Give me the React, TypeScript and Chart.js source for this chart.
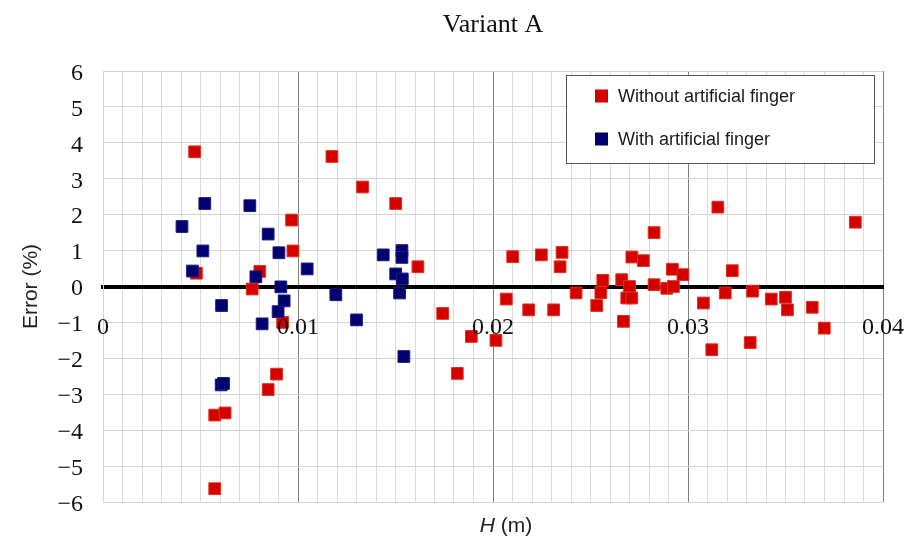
import React, { useEffect, useRef } from 'react';
import { Chart, registerables } from 'chart.js';

Chart.register(...registerables);

const chartTitle = 'Variant A';
const xTitleItalic = 'H';
const xTitleRest = ' (m)';
const yTitle = 'Error (%)';
const seriesNames = ['Without artificial finger', 'With artificial finger'];

const xMajorTicks = [0, 0.01, 0.02, 0.03, 0.04];
const xMinorCount = 40; // minor gridlines every 0.001 between 0 and 0.04
const yTicks = [-6, -5, -4, -3, -2, -1, 0, 1, 2, 3, 4, 5, 6];

const withoutX = [
  0.0047, 0.00479, 0.00765, 0.00804, 0.00967, 0.00974, 0.00921, 0.0089, 0.00847, 0.00573,
  0.00626, 0.00573, 0.01174, 0.01331, 0.01501, 0.01615, 0.01742, 0.01889, 0.01817, 0.02015,
  0.02068, 0.02101, 0.02183, 0.02248, 0.02311, 0.02354, 0.02344, 0.02426, 0.02532, 0.02553,
  0.02563, 0.0266, 0.027, 0.02686, 0.02712, 0.02669, 0.02712, 0.02771, 0.02826, 0.02826,
  0.02891, 0.02925, 0.0292, 0.02974, 0.03079, 0.03122, 0.03153, 0.03191, 0.03227, 0.03331,
  0.03319, 0.03427, 0.035, 0.0351, 0.03637, 0.03699, 0.03858,
];
const withoutY = [
  3.75, 0.37, -0.07, 0.42, 1.85, 0.99, -1.0, -2.44, -2.87, -3.58,
  -3.52, -5.63, 3.62, 2.77, 2.31, 0.55, -0.75, -1.39, -2.42, -1.5,
  -0.35, 0.83, -0.65, 0.88, -0.65, 0.95, 0.55, -0.18, -0.53, -0.17,
  0.17, 0.19, 0.0, -0.32, -0.32, -0.97, 0.82, 0.72, 1.5, 0.05,
  -0.05, 0.0, 0.48, 0.33, -0.46, -1.76, 2.21, -0.18, 0.44, -0.13,
  -1.56, -0.35, -0.3, -0.65, -0.58, -1.16, 1.79,
];

const withX = [
  0.00405, 0.00459, 0.00512, 0.00522, 0.00608, 0.00606, 0.00618, 0.00753, 0.00784, 0.00816,
  0.00847, 0.00902, 0.00912, 0.00898, 0.00929, 0.01047, 0.01194, 0.013, 0.01437, 0.01533,
  0.01533, 0.01501, 0.01535, 0.01521, 0.01543,
];
const withY = [
  1.67, 0.43, 0.99, 2.31, -0.53, -2.74, -2.7, 2.25, 0.27, -1.04,
  1.46, 0.94, -0.01, -0.7, -0.4, 0.49, -0.23, -0.93, 0.88, 1.0,
  0.81, 0.35, 0.21, -0.18, -1.95,
];

const redFill = '#d40000';
const redEdge = '#e0301c';
const blueFill = '#00006e';
const blueEdge = '#1a1a86';

const SERIF = '"Liberation Serif", "Times New Roman", serif';
const SANS = '"Liberation Sans", Arial, sans-serif';

const toPoints = (xs: number[], ys: number[]) => xs.map((x, i) => ({ x, y: ys[i] }));

const xTickValues = Array.from({ length: xMinorCount + 1 }, (_, i) => i / 1000);
const isMajorX = (v: number) => xMajorTicks.some((m) => Math.abs(m - v) < 1e-9);

const decorPlugin = {
  id: 'decor',
  afterDraw(chart: any) {
    const { ctx, chartArea } = chart;
    ctx.save();
    // Title
    ctx.fillStyle = '#111';
    ctx.font = `26px ${SERIF}`;
    ctx.textAlign = 'center';
    ctx.textBaseline = 'alphabetic';
    ctx.fillText(chartTitle, (chartArea.left + chartArea.right) / 2, 32);

    // Y axis title
    ctx.save();
    ctx.font = `21px ${SANS}`;
    ctx.fillStyle = '#222';
    ctx.translate(37, (chartArea.top + chartArea.bottom) / 2);
    ctx.rotate(-Math.PI / 2);
    ctx.textAlign = 'center';
    ctx.textBaseline = 'alphabetic';
    ctx.fillText(yTitle, 0, 0);
    ctx.restore();

    // X axis title (italic H + normal rest)
    ctx.fillStyle = '#222';
    ctx.textAlign = 'left';
    ctx.textBaseline = 'alphabetic';
    ctx.font = `italic 21px ${SANS}`;
    const w1 = ctx.measureText(xTitleItalic).width;
    ctx.font = `21px ${SANS}`;
    const w2 = ctx.measureText(xTitleRest).width;
    const startX = 506 - (w1 + w2) / 2;
    ctx.font = `italic 21px ${SANS}`;
    ctx.fillText(xTitleItalic, startX, 532);
    ctx.font = `21px ${SANS}`;
    ctx.fillText(xTitleRest, startX + w1, 532);

    // Legend box
    const bx = chartArea.right - 317;
    const by = chartArea.top + 4;
    const bw = 308;
    const bh = 88;
    ctx.fillStyle = '#ffffff';
    ctx.fillRect(bx, by, bw, bh);
    ctx.strokeStyle = '#555';
    ctx.lineWidth = 1;
    ctx.strokeRect(bx + 0.5, by + 0.5, bw, bh);
    const ds = chart.data.datasets;
    const rows = [by + 21, by + 64];
    ds.forEach((d: any, i: number) => {
      const cy = rows[i];
      ctx.fillStyle = d.backgroundColor;
      ctx.fillRect(bx + 29, cy - 6.5, 13, 13);
      ctx.fillStyle = '#1a1a1a';
      ctx.font = `18px ${SANS}`;
      ctx.textAlign = 'left';
      ctx.textBaseline = 'middle';
      ctx.fillText(d.label, bx + 52, cy + 1);
    });
    ctx.restore();
  },
};

export default function App() {
  const canvasRef = useRef<HTMLCanvasElement | null>(null);

  useEffect(() => {
    document.body.style.margin = '0';
    document.body.style.background = '#fff';
    const canvas = canvasRef.current;
    if (!canvas) return;
    const chart = new Chart(canvas, {
      type: 'scatter',
      data: {
        datasets: [
          {
            label: seriesNames[0],
            data: toPoints(withoutX, withoutY),
            backgroundColor: redFill,
            borderColor: redEdge,
            borderWidth: 1,
            pointStyle: 'rect',
            pointRadius: 8.3,
            order: 1,
          },
          {
            label: seriesNames[1],
            data: toPoints(withX, withY),
            backgroundColor: blueFill,
            borderColor: blueEdge,
            borderWidth: 1,
            pointStyle: 'rect',
            pointRadius: 8.3,
            order: 0,
          },
        ],
      },
      options: {
        responsive: false,
        animation: false,
        events: [],
        layout: { padding: { top: 71, bottom: 44, left: 0, right: 23 } },
        plugins: {
          legend: { display: false },
          title: { display: false },
          tooltip: { enabled: false },
        },
        scales: {
          x: {
            type: 'linear',
            min: 0,
            max: 0.04,
            position: { y: 0 } as any,
            afterBuildTicks: (s: any) => {
              s.ticks = xTickValues.map((v) => ({ value: v }));
            },
            afterFit: (s: any) => {
              s.paddingLeft = 0;
              s.paddingRight = 0;
            },
            ticks: {
              autoSkip: false,
              maxRotation: 0,
              minRotation: 0,
              padding: 27,
              z: 1,
              color: '#111',
              font: { family: SERIF, size: 24 },
              callback: (v: any) => (isMajorX(Number(v)) ? String(Number(v)) : ''),
            },
            grid: {
              drawTicks: false,
              lineWidth: 1,
              color: (c: any) => {
                const v = c.tick ? c.tick.value : 0;
                return isMajorX(v) && v > 0 ? '#808080' : '#dadada';
              },
            },
            border: { display: true, color: '#000', width: 4 },
          },
          y: {
            type: 'linear',
            min: -6,
            max: 6,
            position: 'left',
            afterBuildTicks: (s: any) => {
              s.ticks = yTicks.map((v) => ({ value: v }));
            },
            afterFit: (s: any) => {
              s.width = 103;
            },
            ticks: {
              autoSkip: false,
              padding: 20,
              labelOffset: 2.5,
              color: '#111',
              font: { family: SERIF, size: 24 },
              callback: (v: any) => (Number(v) < 0 ? '\u2212' + Math.abs(Number(v)) : String(Number(v))),
            },
            grid: { drawTicks: false, lineWidth: 1, color: '#d4d4d4' },
            border: { display: true, color: '#d4d4d4', width: 1 },
          },
        },
      },
      plugins: [decorPlugin],
    });
    return () => chart.destroy();
  }, []);

  return (
    <div style={{ width: 906, height: 546, background: '#fff' }}>
      <canvas ref={canvasRef} width={906} height={546} style={{ display: 'block' }} />
    </div>
  );
}
